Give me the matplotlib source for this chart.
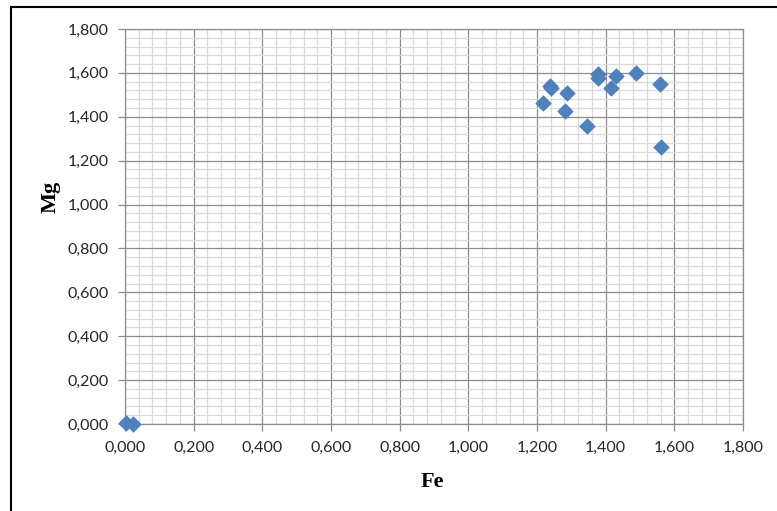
import matplotlib
matplotlib.use("Agg")
import matplotlib.pyplot as plt
from matplotlib.ticker import MultipleLocator, FuncFormatter
from matplotlib.lines import Line2D

# Data (Fe vs Mg)
fe = [0.003, 0.022, 1.238, 1.240, 1.217, 1.287, 1.282, 1.347, 1.377, 1.377, 1.429, 1.415, 1.487, 1.557, 1.562]
mg = [0.004, 0.001, 1.542, 1.530, 1.462, 1.510, 1.428, 1.359, 1.596, 1.575, 1.586, 1.529, 1.600, 1.551, 1.264]

x_label = "Fe"
y_label = "Mg"

fig = plt.figure(figsize=(7.77, 5.11), dpi=100)
ax = fig.add_axes([125/777, 1-424/511, 618/777, 395/511])

ax.set_xlim(0, 1.8)
ax.set_ylim(0, 1.8)
ax.xaxis.set_major_locator(MultipleLocator(0.2))
ax.yaxis.set_major_locator(MultipleLocator(0.2))
ax.xaxis.set_minor_locator(MultipleLocator(0.04))
ax.yaxis.set_minor_locator(MultipleLocator(0.04))

fmt = FuncFormatter(lambda v, p: f"{v:.3f}".replace(".", ","))
ax.xaxis.set_major_formatter(fmt)
ax.yaxis.set_major_formatter(fmt)

ax.grid(which="minor", color="#dadada", linewidth=0.9, zorder=0)
ax.grid(which="major", color="#8c8c8c", linewidth=0.9, zorder=0.5)
ax.set_axisbelow(True)

for s in ax.spines.values():
    s.set_color("#8c8c8c")
    s.set_linewidth(0.9)

ax.tick_params(which="major", direction="out", length=5, width=0.9, color="#8c8c8c",
               labelsize=11.5, labelcolor="#262626")
ax.tick_params(axis="x", which="major", pad=7)
ax.tick_params(axis="y", which="major", pad=7)
ax.tick_params(which="minor", length=0)
for lab in ax.get_xticklabels() + ax.get_yticklabels():
    lab.set_fontfamily("Lato")

ax.scatter(fe, mg, marker="D", s=62, color="#4F81BD", edgecolors="#4A7EBB",
           linewidths=0.5, zorder=3, clip_on=False)

ax.set_xlabel(x_label, fontsize=16, fontweight="bold", family="Liberation Serif")
ax.set_ylabel(y_label, fontsize=16, fontweight="bold", family="Liberation Serif")
ax.xaxis.set_label_coords(0.498, -0.122)
ax.yaxis.set_label_coords(-0.105, 0.575)

# outer chart border (top and left)
fig.add_artist(Line2D([11/777, 1.0], [1-7/511, 1-7/511], transform=fig.transFigure,
                      color="black", linewidth=1.5))
fig.add_artist(Line2D([11/777, 11/777], [0.0, 1-7/511], transform=fig.transFigure,
                      color="black", linewidth=1.5))

fig.savefig("out.png", dpi=100)
